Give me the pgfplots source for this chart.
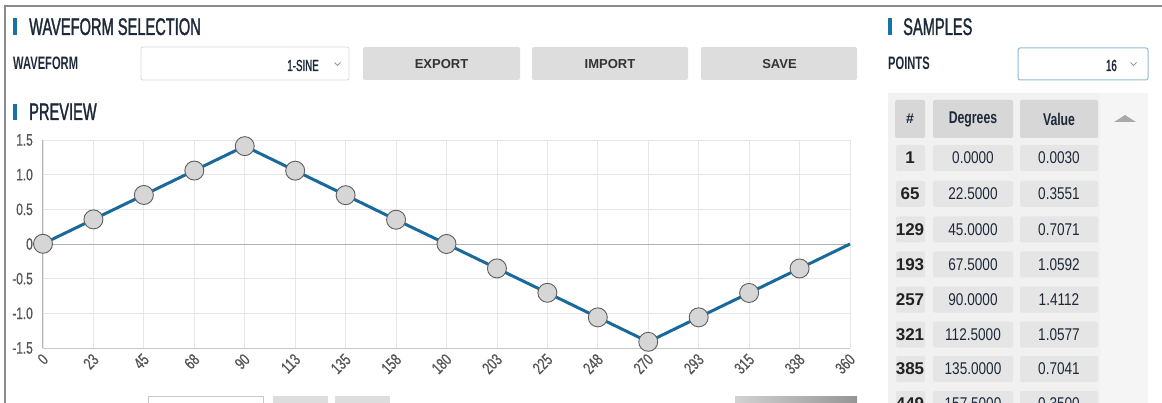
\documentclass[border=0pt]{standalone}
\usepackage{pgfplots}
\pgfplotsset{compat=1.18}
\usepackage{fontspec}
\setmainfont{Liberation Sans}
\newfontfamily\titlef[FakeStretch=0.62]{Liberation Sans}
\newfontfamily\titleh[FakeStretch=0.61, RawFeature={embolden=1.3}]{Liberation Sans}
\newfontfamily\condf[FakeStretch=0.72]{Liberation Sans}
\newfontfamily\tickf[FakeStretch=0.72, RawFeature={embolden=0.6}]{Liberation Sans}
\newfontfamily\numf[FakeStretch=0.80]{Liberation Sans}
\definecolor{navy}{HTML}{1D2838}
\definecolor{barblue}{HTML}{1673A8}
\definecolor{lineblue}{HTML}{19699A}
\definecolor{btn}{HTML}{DDDDDD}
\definecolor{btntext}{HTML}{333333}
\definecolor{panel}{HTML}{F1F1F1}
\definecolor{panelr}{HTML}{F5F5F5}
\definecolor{cellc}{HTML}{E5E5E5}
\definecolor{hcell}{HTML}{D7D7D7}
\definecolor{tickc}{HTML}{555555}
\definecolor{gridc}{HTML}{E6E6E6}
\definecolor{frame}{HTML}{8A8A8A}
\definecolor{markfill}{HTML}{D6D6D6}
\definecolor{markdraw}{HTML}{5E5E5E}
\definecolor{ddborder}{HTML}{8FBCD4}
\definecolor{arrowc}{HTML}{A9A9A9}
\definecolor{idxc}{HTML}{222222}
\definecolor{boxborder}{HTML}{C8C8C8}
\definecolor{gradl}{HTML}{D2D2D2}
\definecolor{gradr}{HTML}{959595}
\definecolor{zeroc}{HTML}{AFAFAF}
\definecolor{leftax}{HTML}{B5B5B5}
\definecolor{botax}{HTML}{C8C8C8}
\pgfplotstableread{
x y
0 0.0030
22.5 0.3551
45 0.7071
67.5 1.0592
90 1.4112
112.5 1.0577
135 0.7041
157.5 0.3500
180 0.0000
202.5 -0.3520
225 -0.7040
247.5 -1.0580
270 -1.4110
292.5 -1.0580
315 -0.7060
337.5 -0.3530
}\samples
\pgfplotstableread{
x y
0 0.0030
22.5 0.3551
45 0.7071
67.5 1.0592
90 1.4112
112.5 1.0577
135 0.7041
157.5 0.3500
180 0.0000
202.5 -0.3520
225 -0.7040
247.5 -1.0580
270 -1.4110
292.5 -1.0580
315 -0.7060
337.5 -0.3530
360 0.0000
}\waveline
\begin{document}
\begin{tikzpicture}
\useasboundingbox (0,0) rectangle (1162pt,402pt);
\clip (0,0) rectangle (1162pt,402pt);
\fill[white] (0,0) rectangle (1162pt,402pt);
\begin{scope}[x=1pt,y=-1pt,yshift=402pt]
% frame
\draw[frame, line width=1.3pt] (5,410) -- (5,6) -- (1170,6);
% titles
\fill[barblue] (13,18) rectangle (16.5,35);
\node[anchor=base west, inner sep=0, text=navy, font=\titleh\fontsize{24}{24}\selectfont] at (29,35) {WAVEFORM SELECTION};
\fill[barblue] (13,104) rectangle (16.5,120);
\node[anchor=base west, inner sep=0, text=navy, font=\titleh\fontsize{24}{24}\selectfont] at (29,120) {PREVIEW};
\fill[barblue] (888,18) rectangle (891.5,35);
\node[anchor=base west, inner sep=0, text=navy, font=\titleh\fontsize{24}{24}\selectfont] at (903,35) {SAMPLES};
% labels
\node[anchor=base west, inner sep=0, text=navy, font=\titlef\bfseries\fontsize{18}{18}\selectfont] at (13,70) {WAVEFORM};
\node[anchor=base west, inner sep=0, text=navy, font=\titlef\bfseries\fontsize{18}{18}\selectfont] at (888,70) {POINTS};
% waveform dropdown
\draw[gray!30, fill=white, rounded corners=2pt, line width=0.8pt] (141,47) rectangle (349,80);
\node[anchor=base east, inner sep=0, text=navy, font=\titleh\fontsize{16}{16}\selectfont] at (319,71) {1-SINE};
\draw[gray!80, line width=1pt] (334.5,62.5) -- (337.5,65.5) -- (340.5,62.5);
% buttons
\fill[btn, rounded corners=2pt] (363,47) rectangle (520,80);
\fill[btn, rounded corners=2pt] (532,47) rectangle (688,80);
\fill[btn, rounded corners=2pt] (701,47) rectangle (857,80);
\node[text=btntext, font=\bfseries\fontsize{13}{13}\selectfont, inner sep=0] at (441.5,64) {EXPORT};
\node[text=btntext, font=\bfseries\fontsize{13}{13}\selectfont, inner sep=0] at (610,64) {IMPORT};
\node[text=btntext, font=\bfseries\fontsize{13}{13}\selectfont, inner sep=0] at (779.5,64) {SAVE};
% points dropdown
\draw[ddborder, fill=white, rounded corners=2pt, line width=1pt] (1018,48) rectangle (1148,80);
\node[anchor=base east, inner sep=0, text=navy, font=\titleh\fontsize{16}{16}\selectfont] at (1117,71) {16};
\draw[gray!80, line width=1pt] (1130.5,62.5) -- (1133.5,65.5) -- (1136.5,62.5);
% table panel
\fill[panel] (888,93) rectangle (1148,410);
\fill[panelr] (1100,93) rectangle (1148,410);
\fill[arrowc] (1114,122) -- (1125,115) -- (1136,122) -- cycle;
\fill[hcell, rounded corners=1.5pt] (895,100) rectangle (925,138);
\fill[hcell, rounded corners=1.5pt] (933,100) rectangle (1013,138);
\fill[hcell, rounded corners=1.5pt] (1020,100) rectangle (1098,138);
\node[text=navy, font=\bfseries\fontsize{14}{14}\selectfont, inner sep=0] at (910,119) {\#};
\node[text=navy, font=\condf\bfseries\fontsize{17}{17}\selectfont, inner sep=0] at (973,119) {Degrees};
\node[text=navy, font=\condf\bfseries\fontsize{17}{17}\selectfont, inner sep=0] at (1059,119) {Value};
\foreach \c/\n/\d/\v in {158/1/0.0000/0.0030, 194/65/22.5000/0.3551, 229.5/129/45.0000/0.7071, 264.5/193/67.5000/1.0592, 299.5/257/90.0000/1.4112, 334.5/321/112.5000/1.0577, 369/385/135.0000/0.7041, 404/449/157.5000/0.3500}{
  \fill[cellc, rounded corners=1.5pt] (896,\c-13) rectangle (925,\c+13);
  \fill[cellc, rounded corners=1.5pt] (933,\c-13) rectangle (1013,\c+13);
  \fill[cellc, rounded corners=1.5pt] (1020,\c-13) rectangle (1098,\c+13);
  \node[text=idxc, font=\bfseries\fontsize{17}{17}\selectfont, inner sep=0] at (910,\c) {\n};
  \node[text=navy, font=\numf\fontsize{17}{17}\selectfont, inner sep=0] at (973,\c) {\d};
  \node[text=navy, font=\numf\fontsize{17}{17}\selectfont, inner sep=0] at (1059,\c) {\v};
}
% bottom partial controls
\draw[boxborder, fill=white, line width=0.8pt] (148,396) rectangle (263,412);
\fill[btn] (273,396) rectangle (328,412);
\fill[btn] (335,396) rectangle (390,412);
\shade[left color=gradl, right color=gradr] (735,396) rectangle (857,412);
\end{scope}
\begin{axis}[
  at={(43pt,54pt)}, anchor=south west,
  scale only axis, width=807pt, height=208pt,
  xmin=0, xmax=360, ymin=-1.5, ymax=1.5,
  xtick={0,22.5,45,67.5,90,112.5,135,157.5,180,202.5,225,247.5,270,292.5,315,337.5,360},
  xticklabels={0,23,45,68,90,113,135,158,180,203,225,248,270,293,315,338,360},
  ytick={-1.5,-1,-0.5,0,0.5,1,1.5},
  yticklabels={-1.5,-1.0,-0.5,0,0.5,1.0,1.5},
  grid=major, grid style={gridc, line width=0.8pt},
  axis line style={draw=none},
  major tick style={draw=none},
  ticklabel style={font=\tickf\fontsize{16.5}{16.5}\selectfont, text=tickc},
  xticklabel style={xshift=3pt, yshift=-8pt, rotate=45, anchor=east, inner sep=1pt},
  yticklabel style={anchor=east, inner sep=0pt, xshift=-10pt},
  clip=false,
]
\draw[zeroc, line width=0.9pt] (axis cs:0,0) -- (axis cs:360,0);
\draw[leftax, line width=1pt] (rel axis cs:0,0) -- (rel axis cs:0,1);
\draw[botax, line width=1pt] (rel axis cs:0,0) -- (rel axis cs:1,0);
\addplot[only marks, mark=*, mark size=9.5pt, mark options={fill=markfill, draw=markdraw, line width=0.9pt}] table[x=x,y=y] {\samples};
\addplot[lineblue, line width=3pt, no marks] table[x=x,y=y] {\waveline};
\end{axis}
\end{tikzpicture}
\end{document}
